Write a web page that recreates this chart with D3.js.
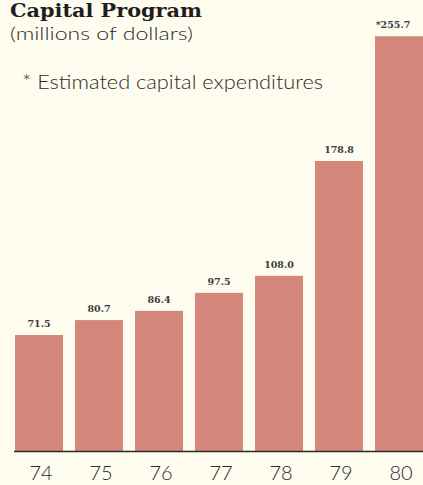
<!DOCTYPE html>
<html>
<head>
<meta charset="utf-8">
<script src="https://cdn.jsdelivr.net/npm/d3@7"></script>
<style>
  html, body { margin: 0; padding: 0; background: #fdfcef; }
  svg { display: block; }
</style>
</head>
<body>
<script>
const years = ["74", "75", "76", "77", "78", "79", "80"];
const values = [71.5, 80.7, 86.4, 97.5, 108.0, 178.8, 255.7];
const valueLabels = ["71.5", "80.7", "86.4", "97.5", "108.0", "178.8", "*255.7"];
const title = "Capital Program";
const subtitle = "(millions of dollars)";
const note = "* Estimated capital expenditures";

const W = 423, H = 485;
const svg = d3.select("body").append("svg").attr("width", W).attr("height", H);
svg.append("rect").attr("width", W).attr("height", H).attr("fill", "#fdfcef");

const x = d3.scaleBand().domain(years).range([9, 429]).paddingInner(0.2).paddingOuter(0.1);
const y = d3.scaleLinear().domain([0, 260]).range([451, 451 - 260 * 1.622]);

const data = years.map((yr, i) => ({ yr, v: values[i], lab: valueLabels[i] }));

svg.selectAll("rect.bar").data(data).enter().append("rect")
  .attr("class", "bar")
  .attr("x", d => x(d.yr))
  .attr("width", x.bandwidth())
  .attr("y", d => y(d.v))
  .attr("height", d => y(0) - y(d.v))
  .attr("fill", "#d4867a");

svg.selectAll("text.val").data(data).enter().append("text")
  .attr("class", "val")
  .attr("x", d => x(d.yr) + x.bandwidth() / 2 + (d.lab.startsWith("*") ? -6 : 0))
  .attr("y", d => y(d.v) - 8)
  .attr("text-anchor", "middle")
  .attr("font-family", "DejaVu Serif, serif")
  .attr("font-weight", "bold")
  .attr("font-size", 9.5)
  .attr("fill", "#3a3a3a")
  .text(d => d.lab);

// baseline axis
const axis = d3.axisBottom(x).tickSize(0).tickPadding(15);
const gx = svg.append("g").attr("transform", `translate(0,${y(0)})`).call(axis);
gx.select(".domain").remove();
svg.append("line").attr("x1", 14).attr("x2", W).attr("y1", y(0) + 0.5).attr("y2", y(0) + 0.5)
  .attr("stroke", "#2a2a2a").attr("stroke-width", 1.6);
gx.selectAll("text")
  .attr("font-family", "Lato, 'DejaVu Sans', sans-serif")
  .attr("font-weight", 300)
  .attr("font-size", 20)
  .attr("fill", "#2a2a2a")
  .attr("dx", 2);

svg.append("text").attr("x", 10).attr("y", 17)
  .attr("font-family", "DejaVu Serif, serif").attr("font-weight", "bold")
  .attr("font-size", 18).attr("fill", "#1e1e1e")
  .attr("textLength", 192).attr("lengthAdjust", "spacingAndGlyphs")
  .text(title);
svg.append("text").attr("x", 10).attr("y", 40)
  .attr("font-family", "Lato, 'DejaVu Sans', sans-serif").attr("font-weight", 300)
  .attr("font-size", 18).attr("fill", "#2a2a2a")
  .attr("textLength", 183).attr("lengthAdjust", "spacingAndGlyphs")
  .text(subtitle);
svg.append("text").attr("x", 22).attr("y", 89)
  .attr("font-family", "Lato, 'DejaVu Sans', sans-serif").attr("font-weight", 300)
  .attr("font-size", 19).attr("fill", "#2a2a2a")
  .attr("textLength", 301).attr("lengthAdjust", "spacingAndGlyphs")
  .text(note);
</script>
</body>
</html>
